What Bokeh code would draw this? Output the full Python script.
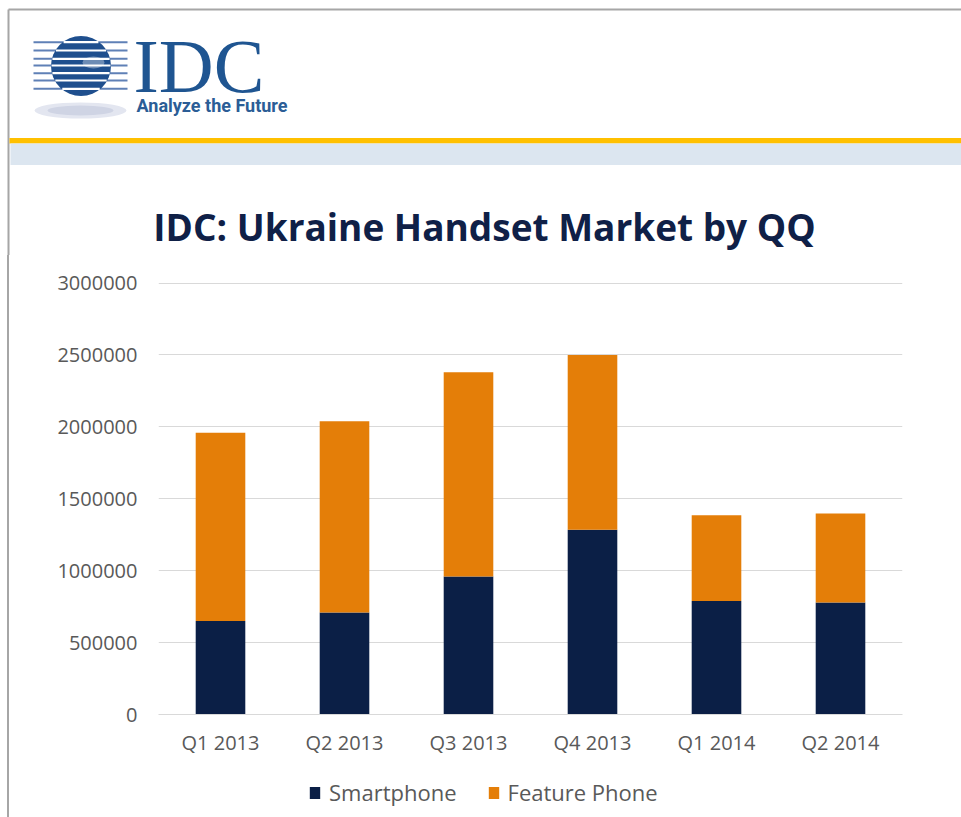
import math
from bokeh.plotting import figure
from bokeh.layouts import column, row
from bokeh.models import (ColumnDataSource, FactorRange, Range1d, FixedTicker,
                          NumeralTickFormatter, Legend, LegendItem, Div)
from bokeh.core.properties import value
from bokeh.embed import file_html
from bokeh.resources import INLINE

# ---------------- data ----------------
quarters = ["Q1 2013", "Q2 2013", "Q3 2013", "Q4 2013", "Q1 2014", "Q2 2014"]
smartphone = [650000, 710000, 960000, 1285000, 790000, 778000]
feature_phone = [1310000, 1330000, 1420000, 1215000, 595000, 619000]
series_names = ["Smartphone", "Feature Phone"]
y_ticks = [0, 500000, 1000000, 1500000, 2000000, 2500000, 3000000]
title_text = "IDC: Ukraine Handset Market by QQ"

NAVY = "#0b1f46"
ORANGE = "#e47e08"
LABEL = "#595959"
FONT = "Open Sans"
BORDER = "#a6a6a6"

# SVG text sits ~0.31em lower than the requested alphabetic baseline; compensate
def base(y, size):
    return y - 0.31 * size

# ---------------- header (logo, bands, title) ----------------
W, HH = 961, 255
hdr = figure(width=W, height=HH, x_range=Range1d(0, W), y_range=Range1d(HH, 0),
             toolbar_location=None, output_backend="svg", min_border=0)
hdr.axis.visible = False
hdr.grid.visible = False
hdr.outline_line_color = None
hdr.background_fill_color = "white"
hdr.border_fill_color = "white"

# page borders
hdr.segment(x0=[8, 8], y0=[9, 9], x1=[W, 8], y1=[9, HH], line_color=BORDER, line_width=2)
# yellow rule and light blue band
hdr.quad(left=[9], right=[W], top=[137.5], bottom=[143], fill_color="#ffc000", line_color=None)
hdr.quad(left=[10], right=[W], top=[143], bottom=[164.5], fill_color="#dce6f0", line_color=None)

# logo: shadow
hdr.ellipse(x=[80], y=[110], width=[92], height=[16], fill_color="#e3e6f0", line_color=None)
hdr.ellipse(x=[80], y=[110], width=[66], height=[10], fill_color="#cfd4e4", line_color=None)
# logo: stripes + sphere
cx, cy, r = 80.5, 65.5, 30
stripe_y = [41.7, 50.0, 58.3, 65.0, 72.7, 80.0, 88.3]
hdr.segment(x0=[33] * len(stripe_y), y0=stripe_y, x1=[127] * len(stripe_y), y1=stripe_y,
            line_color="#5f80b6", line_width=2)
hdr.circle(x=[cx], y=[cy], radius=r, fill_color="#1f4f8e", line_color=None)
gx0, gx1 = [], []
for yy in stripe_y:
    d = r - 0.5
    half = math.sqrt(max(d * d - (yy - cy) ** 2, 0))
    gx0.append(cx - half)
    gx1.append(cx + half)
hdr.segment(x0=gx0, y0=stripe_y, x1=gx1, y1=stripe_y, line_color="white", line_width=2.2)
hdr.ellipse(x=[93], y=[62], width=[22], height=[12], fill_color="white", fill_alpha=0.35, line_color=None)

hdr.text(x=[133], y=[base(89, 76)], text=["IDC"], text_font=value("Liberation Serif"),
         text_font_size="76px", text_color="#1f5591", text_baseline="alphabetic")
hdr.text(x=[136], y=[base(111, 18)], text=["Analyze the Future"], text_font=value("Roboto"),
         text_font_style="bold", text_font_size="18px", text_color="#2b5d96",
         text_baseline="alphabetic")

# chart title
hdr.text(x=[484], y=[base(237, 37)], text=[title_text], text_font=value(FONT),
         text_font_style="bold", text_font_size="37px", text_color="#0f2047",
         text_align="center", text_baseline="alphabetic")

# ---------------- lower part ----------------
CH = 817 - HH          # 562
FH = 57                # footer (legend) height
PH = CH - FH           # chart height

border_div = Div(text="", width=9, height=CH, margin=0,
                 styles={"border-right": "2px solid " + BORDER, "box-sizing": "border-box"})

source = ColumnDataSource(dict(quarter=quarters, smartphone=smartphone, feature=feature_phone))

p = figure(width=952, height=PH, x_range=FactorRange(factors=quarters, range_padding=0),
           y_range=Range1d(0, 3004000), toolbar_location=None, output_backend="svg",
           min_border_left=149, min_border_right=59, min_border_top=27,
           min_border_bottom=PH - 27 - 432)
p.outline_line_color = None
p.background_fill_color = "white"
p.border_fill_color = "white"

rs = p.vbar_stack(["smartphone", "feature"], x="quarter", width=0.4,
                  color=[NAVY, ORANGE], line_color=None, source=source)

p.xgrid.grid_line_color = None
p.ygrid.grid_line_color = "#d9d9d9"
p.ygrid.grid_line_width = 1

p.yaxis.ticker = FixedTicker(ticks=y_ticks)
p.yaxis.formatter = NumeralTickFormatter(format="0")
p.yaxis.axis_line_color = None
p.yaxis.major_tick_line_color = None
p.yaxis.minor_tick_line_color = None
p.yaxis.major_label_standoff = 15
p.yaxis.major_label_text_font = FONT
p.yaxis.major_label_text_font_size = "20px"
p.yaxis.major_label_text_color = LABEL

p.xaxis.axis_line_color = "#d9d9d9"
p.xaxis.major_tick_line_color = None
p.xaxis.minor_tick_line_color = None
p.xaxis.major_label_standoff = 8
p.xaxis.major_label_text_font = FONT
p.xaxis.major_label_text_font_size = "20px"
p.xaxis.major_label_text_color = LABEL

# footer figure holding the legend (its frame is aligned with the chart frame)
ft = figure(width=952, height=FH, x_range=Range1d(0, 744), y_range=Range1d(0, FH),
            toolbar_location=None, output_backend="svg", min_border=0)
ft.axis.visible = False
ft.grid.visible = False
ft.outline_line_color = None
ft.background_fill_color = "white"
ft.border_fill_color = "white"
lr0 = ft.vbar(x=[-1000], top=[-20], bottom=[-30], width=1, fill_color=NAVY, line_color=None)
lr1 = ft.vbar(x=[-1000], top=[-20], bottom=[-30], width=1, fill_color=ORANGE, line_color=None)

legend = Legend(items=[LegendItem(label=series_names[0], renderers=[lr0]),
                       LegendItem(label=series_names[1], renderers=[lr1])],
                orientation="horizontal", location=(150, 10))
legend.label_text_font = FONT
legend.label_text_font_size = "22px"
legend.label_text_color = LABEL
legend.glyph_width = 13
legend.glyph_height = 15
legend.label_standoff = 8
legend.spacing = 30
legend.padding = 0
legend.margin = 0
legend.border_line_color = None
legend.background_fill_alpha = 0
ft.add_layout(legend, "center")

layout = column(hdr, row(border_div, column(p, ft, spacing=0), spacing=0), spacing=0)
open("out.html", "w").write(file_html(layout, INLINE))
